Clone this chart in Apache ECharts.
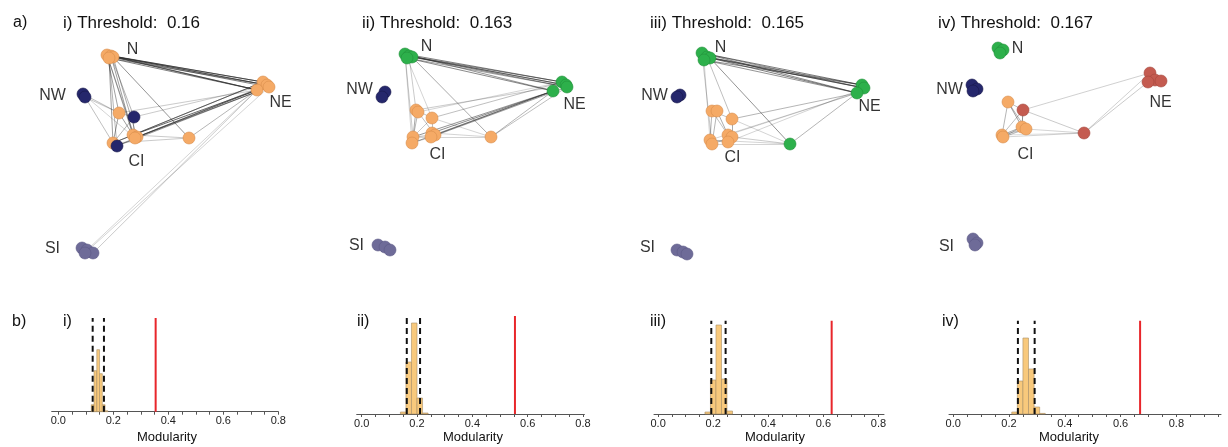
<!DOCTYPE html>
<html><head><meta charset="utf-8">
<script src="https://cdn.jsdelivr.net/npm/echarts@6/dist/echarts.min.js"></script>
<style>html,body{margin:0;padding:0;background:#fff}#c{width:1228px;height:447px}</style>
</head><body><div id="c"></div>
<script>
// ---------- DATA ----------
const panelNames = ['i)', 'ii)', 'iii)', 'iv)'];
const thresholds = ['0.16', '0.163', '0.165', '0.167'];

// network nodes: [x, y, group]  (layout units within each panel)
const nodesI = [[107,55,'or'],[111,56,'or'],[113,57,'or'],[109,58,'or'],
  [263,82,'or'],[267,85,'or'],[269,87,'or'],[257,90,'or'],
  [83,94,'nv'],[85,97,'nv'],
  [119,113,'or'],[134,117,'nv'],[133,135,'or'],[137,137,'or'],[135,138,'or'],[113,143,'or'],[117,146,'nv'],[189,138,'or'],
  [82,248,'si'],[87,250,'si'],[93,253,'si'],[85,253,'si']];
const edgesI = [[0,4,.7],[1,5,.7],[2,6,.6],[3,7,.6],[0,7,.6],[1,4,.6],[2,7,.7],[3,5,.5],[0,5,.5],
  [0,10,.45],[1,12,.45],[2,13,.4],[3,15,.45],[1,11,.35],[0,14,.35],[2,17,.5],[3,16,.35],[0,12,.4],
  [7,12,.7],[7,13,.7],[6,14,.6],[4,15,.55],[7,10,.25],[5,11,.25],[7,17,.35],[6,16,.45],[4,12,.5],[5,13,.5],
  [8,10,.3],[9,15,.3],[9,10,.25],[8,14,.2],
  [10,12,.45],[10,15,.45],[12,15,.45],[11,12,.35],[12,17,.25],[15,17,.25],[10,11,.3],[13,16,.45],[11,15,.35],
  [20,7,.25],[19,7,.2],[21,6,.2]];
const labelsI = [['N',133,50],['NW',53,96],['NE',281,103],['CI',137,162],['SI',53,249]];

const nodesII = [[95,54,'gr'],[99,56,'gr'],[102,57,'gr'],[97,58,'gr'],
  [252,82,'gr'],[256,85,'gr'],[257,87,'gr'],[243,91,'gr'],
  [75,92,'nv'],[72,97,'nv'],
  [106,110,'or'],[108,112,'or'],[122,118,'or'],[103,137,'or'],[102,143,'or'],[122,133,'or'],[125,135,'or'],[121,137,'or'],[181,137,'or'],
  [68,245,'si'],[75,247,'si'],[80,250,'si']];
const edgesII = [[0,4,.6],[1,5,.6],[2,6,.55],[3,7,.55],[0,7,.5],[1,4,.55],[2,5,.5],[3,6,.45],
  [0,13,.25],[1,10,.25],[2,18,.4],[3,12,.2],[0,14,.2],
  [7,13,.5],[7,15,.55],[7,16,.55],[6,17,.45],[4,12,.3],[5,10,.25],[7,18,.35],[6,18,.3],[7,14,.4],[4,11,.2],
  [10,13,.4],[11,14,.35],[10,12,.3],[12,15,.3],[13,16,.35],[14,17,.3],[12,18,.2],[13,18,.2],[15,18,.2],[11,16,.3],[12,13,.25]];
const labelsII = [['N',117,47],['NW',50,90],['NE',265,105],['CI',128,155],['SI',47,246]];

const nodesIII = [[87,53,'gr'],[92,57,'gr'],[95,58,'gr'],[89,60,'gr'],
  [247,85,'gr'],[249,88,'gr'],[242,93,'gr'],
  [65,95,'nv'],[62,97,'nv'],
  [97,111,'or'],[102,111,'or'],[117,119,'or'],[95,140,'or'],[97,144,'or'],[113,135,'or'],[117,137,'or'],[113,142,'or'],
  [175,144,'gr'],
  [62,250,'si'],[68,252,'si'],[72,254,'si']];
const edgesIII = [[0,4,.6],[1,5,.6],[2,6,.6],[3,4,.55],[0,6,.55],[1,4,.55],[2,5,.55],[3,6,.5],[0,5,.5],
  [0,13,.25],[1,11,.3],[2,17,.5],[3,12,.2],
  [6,11,.35],[6,14,.2],[6,12,.2],[5,16,.2],[6,17,.35],
  [9,12,.35],[10,13,.35],[9,11,.3],[10,14,.4],[11,15,.4],[12,16,.35],[13,15,.3],[9,14,.3],[11,17,.2],[15,17,.25],[13,17,.2],[12,17,.2]];
const labelsIII = [['N',106,48],['NW',40,96],['NE',255,107],['CI',118,158],['SI',33,248]];

const nodesIV = [[78,48,'gr'],[83,50,'gr'],[80,53,'gr'],
  [52,85,'nv'],[57,89,'nv'],[53,91,'nv'],
  [230,73,'rd'],[235,80,'rd'],[241,81,'rd'],[228,82,'rd'],
  [88,102,'or'],[82,135,'or'],[83,137,'or'],[102,127,'or'],[106,129,'or'],
  [103,110,'rd'],[164,133,'rd'],
  [53,239,'si'],[57,243,'si'],[55,245,'si']];
const edgesIV = [[15,6,.22],[16,9,.25],[16,6,.22],[15,16,.25],[14,16,.2],[12,16,.2],[11,16,.15],
  [10,11,.35],[10,13,.45],[10,14,.35],[11,13,.4],[12,14,.35],[15,13,.55],[15,11,.3],[10,15,.3],[11,14,.3],[13,12,.35]];
const labelsIV = [['N',98,49],['NW',30,90],['NE',241,103],['CI',106,155],['SI',27,247]];

// histograms of null-model modularity: bin starts, bin width, counts
const binStartsI = [0.12,0.13,0.14,0.15,0.16,0.17];
const countsI    = [7,41,62,38,7,1];
const binStartsII = [0.14,0.16,0.18,0.20,0.22];
const countsII    = [2,52,91,16,1];
const binStartsIII = [0.17,0.19,0.21,0.23,0.25];
const countsIII    = [2,34,89,35,3];
const binStartsIV = [0.21,0.23,0.25,0.27,0.29,0.31];
const countsIV    = [2,33,76,45,7,0.6];
const binWidths = [0.01,0.02,0.02,0.02];
const ciLow  = [0.125,0.163,0.193,0.232];
const ciHigh = [0.166,0.211,0.245,0.292];
const observedQ = [0.354,0.554,0.63,0.67];
const tickLabelValues = [0,0.2,0.4,0.6,0.8];
const tickMarkValues = [0,0.05,0.1,0.15,0.2,0.25,0.3,0.35,0.4,0.45,0.5,0.55,0.6,0.65,0.7,0.75,0.8];
const tickMarkValuesIV = [0,0.05,0.1,0.15,0.2,0.25,0.3,0.35,0.4,0.45,0.5,0.55,0.6,0.65,0.7,0.75,0.8,0.85,0.9,0.95];

// ---------- LAYOUT / STYLE ----------
const FONT = 'Arial, "Liberation Sans", sans-serif';
const GROUP = {or:['#F5AA66','#D98D4C'], nv:['#25276C','#17184A'], gr:['#2DB04B','#22903A'],
  si:['#6E6B98','#5C5986'], rd:['#C45B50','#A4473D']};
const nets = [
  {nodes:nodesI, edges:edgesI, labels:labelsI, left:0},
  {nodes:nodesII, edges:edgesII, labels:labelsII, left:310},
  {nodes:nodesIII, edges:edgesIII, labels:labelsIII, left:615},
  {nodes:nodesIV, edges:edgesIV, labels:labelsIV, left:920}];
const hists = [
  {starts:binStartsI, counts:countsI, left:51.7, width:226.6, top:318, height:93.7, min:-0.024, max:0.8, ticks:tickMarkValues, nameX:167, titleX:63},
  {starts:binStartsII, counts:countsII, left:356.7, width:227.7, top:316, height:98, min:-0.018, max:0.805, ticks:tickMarkValues, nameX:473, titleX:357},
  {starts:binStartsIII, counts:countsIII, left:654, width:230, top:320.7, height:93.3, min:-0.015, max:0.82, ticks:tickMarkValues, nameX:775, titleX:650},
  {starts:binStartsIV, counts:countsIV, left:949, width:272, top:320.7, height:93.3, min:-0.015, max:0.96, ticks:tickMarkValuesIV, nameX:1069, titleX:942}];
const threshX = [63, 362, 650, 938];

const grid = [], xAxis = [], yAxis = [], series = [], title = [];
function addTitle(text, x, y, size, align) {
  title.push({text, left:x, top:y, padding:0, textAlign:align||'left', textVerticalAlign:'middle',
    textStyle:{fontFamily:FONT, fontSize:size, fontWeight:'normal', color:'#111'}});
}
addTitle('a)', 13, 23, 16);
addTitle('b)', 12, 322, 16);

nets.forEach((n, k) => {
  grid.push({left:n.left, top:0, width:300, height:280, containLabel:false});
  xAxis.push({type:'value', gridIndex:k, min:0, max:300, show:false});
  yAxis.push({type:'value', gridIndex:k, min:0, max:280, inverse:true, show:false});
  series.push({
    type:'graph', layout:'none', coordinateSystem:'cartesian2d', xAxisIndex:k, yAxisIndex:k,
    symbol:'circle', symbolSize:12, silent:true, animation:false, roam:false,
    data: n.nodes.map(d => ({value:[d[0], d[1]],
      itemStyle:{color:GROUP[d[2]][0], borderColor:GROUP[d[2]][1], borderWidth:0.6}})),
    links: n.edges.map(e => ({source:e[0], target:e[1], lineStyle:{opacity:e[2]}})),
    lineStyle:{color:'#2a2a2a', width:1, curveness:0},
    label:{show:false}, emphasis:{disabled:true}
  });
  series.push({
    type:'scatter', xAxisIndex:k, yAxisIndex:k, symbolSize:1, silent:true, animation:false,
    itemStyle:{color:'rgba(0,0,0,0)'},
    data: n.labels.map(l => ({name:l[0], value:[l[1], l[2]]})),
    label:{show:true, position:[0,0], align:'center', verticalAlign:'middle', formatter:p => p.name,
      fontFamily:FONT, fontSize:16, color:'#000', textBorderWidth:0}
  });
  addTitle(panelNames[k] + ' Threshold:  ' + thresholds[k], threshX[k], 23, 17);
});

hists.forEach((h, j) => {
  const k = 4 + j;
  grid.push({left:h.left, top:h.top, width:h.width, height:h.height});
  xAxis.push({type:'value', gridIndex:k, min:h.min, max:h.max,
    axisLine:{show:true, onZero:false, lineStyle:{color:'#555', width:1}},
    axisTick:{show:true, customValues:h.ticks, length:3, lineStyle:{color:'#555', width:1}},
    axisLabel:{show:true, customValues:tickLabelValues, formatter:v => v.toFixed(1), fontFamily:FONT, fontSize:11, color:'#222', margin:4},
    splitLine:{show:false}});
  yAxis.push({type:'value', gridIndex:k, min:0, max:h.height, show:false});
  series.push({
    type:'custom', xAxisIndex:k, yAxisIndex:k, silent:true, animation:false,
    data: h.starts.map((s, i) => [s, s + binWidths[j], h.counts[i]]),
    encode:{x:[0,1], y:2},
    renderItem:(params, api) => {
      const p0 = api.coord([api.value(0), api.value(2)]);
      const p1 = api.coord([api.value(1), 0]);
      return {type:'rect', shape:{x:p0[0], y:p0[1], width:p1[0]-p0[0], height:p1[1]-p0[1]},
        style:{fill:'#F8C97C', stroke:'#A88E66', lineWidth:0.6}};
    }
  });
  [ciLow[j], ciHigh[j]].forEach(v => series.push({
    type:'line', xAxisIndex:k, yAxisIndex:k, silent:true, animation:false, symbol:'none',
    data:[[v,0],[v,h.height]], lineStyle:{color:'#111', width:2, type:[6,4]}, z:5}));
  series.push({type:'line', xAxisIndex:k, yAxisIndex:k, silent:true, animation:false, symbol:'none',
    data:[[observedQ[j],0],[observedQ[j],h.height]], lineStyle:{color:'#E8262B', width:2}, z:5});
  addTitle(panelNames[j], h.titleX, 322, 16);
  addTitle('Modularity', h.nameX, 437, 13, 'center');
});

const chart = echarts.init(document.getElementById('c'), null, {renderer:'canvas'});
chart.setOption({animation:false, backgroundColor:'#fff', title, grid, xAxis, yAxis, series});
</script>
</body></html>
